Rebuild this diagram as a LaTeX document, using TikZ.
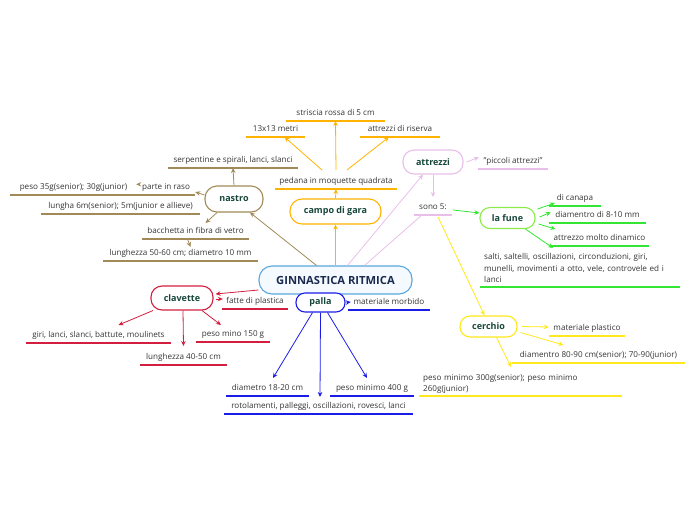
\documentclass[tikz,border=0pt]{standalone}
\usepackage{fontspec}
\setmainfont{Open Sans}
\usetikzlibrary{arrows.meta,calc}
\definecolor{cOr}{HTML}{FFB300}
\definecolor{cBr}{HTML}{A18A58}
\definecolor{cLi}{HTML}{E9BFEA}
\definecolor{cGr}{HTML}{33E633}
\definecolor{cGrB}{HTML}{8BEB4B}
\definecolor{cYe}{HTML}{FFE81C}
\definecolor{cRe}{HTML}{D31E40}
\definecolor{cBl}{HTML}{1C1CE8}
\definecolor{cMain}{HTML}{5AA6DD}
\definecolor{cMainF}{HTML}{F4FAFF}
\definecolor{cLab}{HTML}{17473A}
\definecolor{cNavy}{HTML}{1B2B4F}
\definecolor{cTxt}{HTML}{333333}
\newcommand{\lastdepth}{\rule[-4pt]{0pt}{4pt}}
\begin{document}
\begin{tikzpicture}[x=1pt,y=-1pt,
  box/.style={draw, line width=1.1pt, rounded corners=10pt, fill=white, inner sep=0pt,
    font=\fontsize{9}{10}\selectfont\bfseries, text=cLab},
  topic/.style={anchor=south, inner xsep=0pt, inner ysep=0pt, text height=6pt, text depth=5pt,
    font=\fontsize{8.1}{9}\selectfont, text=cTxt},
  multi/.style={anchor=south west, inner xsep=4pt, inner ysep=0pt, align=left, text width=#1,
    font=\fontsize{8.1}{11.6}\selectfont, text=cTxt},
  arr/.style={line width=0.8pt, -{Stealth[length=5pt,width=4.5pt]}},
  con/.style={line width=0.8pt},
  ul/.style={line width=1.6pt}]
\useasboundingbox (0,0) rectangle (696,520);

% ---- boxes
\node[box, draw=cMain, fill=cMainF, minimum width=153pt, minimum height=28pt, rounded corners=13pt,
  text=cNavy, font=\fontsize{11.2}{13}\selectfont\bfseries] (main) at (335.5,280) {GINNASTICA RITMICA};
\node[box, draw=cOr, minimum width=91pt, minimum height=25pt, rounded corners=12pt] (campo) at (335.5,211.5) {campo di gara};
\node[box, draw=cBr, minimum width=58pt, minimum height=26pt, rounded corners=12pt] (nastro) at (234,199) {nastro};
\node[box, draw=cLi, minimum width=60pt, minimum height=24pt, rounded corners=11pt] (attrezzi) at (433,162) {attrezzi};
\node[box, draw=cGrB, minimum width=55pt, minimum height=21pt] (fune) at (507.5,218) {la fune};
\node[box, draw=cYe, minimum width=57pt, minimum height=21pt] (cerchio) at (488.5,326.5) {cerchio};
\node[box, draw=cRe, minimum width=62pt, minimum height=24pt, rounded corners=11pt] (clavette) at (182,298) {clavette};
\node[box, draw=cBl, minimum width=49pt, minimum height=19pt, rounded corners=9pt] (palla) at (320.5,302.5) {palla};

% ---- topics: campo di gara
\node[topic, minimum width=122pt] (pedana) at (336,189) {pedana in moquette quadrata};
\node[topic, minimum width=59pt] (m13) at (275.5,137) {13x13 metri};
\node[topic, minimum width=99pt] (striscia) at (335.5,121) {striscia rossa di 5 cm};
\node[topic, minimum width=80pt] (riserva) at (400,137) {attrezzi di riserva};
% nastro
\node[topic, minimum width=130pt] (serp) at (233,168) {serpentine e spirali, lanci, slanci};
\node[topic, minimum width=58pt] (raso) at (166,195) {parte in raso};
\node[topic, minimum width=127pt] (peso35) at (73.5,195) {peso 35g(senior); 30g(junior)};
\node[topic, minimum width=159pt] (lungha) at (120.5,214) {lungha 6m(senior); 5m(junior e allieve)};
\node[topic, minimum width=107pt] (bacch) at (195.5,239) {bacchetta in fibra di vetro};
\node[topic, minimum width=155pt] (lung50) at (180.5,261) {lunghezza 50-60 cm; diametro 10 mm};
% attrezzi
\node[topic, minimum width=70pt] (piccoli) at (513,169) {"piccoli attrezzi"};
\node[topic, minimum width=38pt] (sono) at (433,215) {sono 5:};
% fune
\node[topic, minimum width=51pt] (canapa) at (575,206) {di canapa};
\node[topic, minimum width=97pt] (d810) at (597.5,223) {diamentro di 8-10 mm};
\node[topic, minimum width=99pt] (dinam) at (599.5,246) {attrezzo molto dinamico};
\node[multi=192pt] (salti) at (480,287) {salti, saltelli, oscillazioni, circonduzioni, giri,\\munelli, movimenti a otto, vele, controvele ed i\\lanci\lastdepth};
% cerchio
\node[topic, minimum width=76pt] (plast) at (587,336) {materiale plastico};
\node[topic, minimum width=173pt] (d8090) at (598.5,363) {diamentro 80-90 cm(senior); 70-90(junior)};
\node[multi=195pt] (p300) at (419,396) {peso minimo 300g(senior); peso minimo\\260g(junior)\lastdepth};
% clavette
\node[topic, minimum width=66pt] (fatte) at (255,309) {fatte di plastica};
\node[topic, minimum width=145pt] (giri) at (98.5,343) {giri, lanci, slanci, battute, moulinets};
\node[topic, minimum width=87pt] (l40) at (183.5,365) {lunghezza 40-50 cm};
\node[topic, minimum width=74pt] (p150) at (233,342) {peso mino 150 g};
% palla
\node[topic, minimum width=82pt] (morb) at (389,310) {materiale morbido};
\node[topic, minimum width=83pt] (d1820) at (267.5,396) {diametro 18-20 cm};
\node[topic, minimum width=84pt] (p400) at (372,396) {peso minimo 400 g};
\node[topic, minimum width=189pt] (rotol) at (318.5,414) {rotolamenti, palleggi, oscillazioni, rovesci, lanci};

% ---- underlines
\foreach \n/\c in {pedana/cOr,m13/cOr,striscia/cOr,riserva/cOr,
  serp/cBr,raso/cBr,peso35/cBr,lungha/cBr,bacch/cBr,lung50/cBr,
  piccoli/cLi,sono/cLi,canapa/cGr,d810/cGr,dinam/cGr,salti/cGr,
  plast/cYe,d8090/cYe,p300/cYe,fatte/cRe,giri/cRe,l40/cRe,p150/cRe,
  morb/cBl,d1820/cBl,p400/cBl,rotol/cBl}
  \draw[ul, draw=\c] (\n.south west) -- (\n.south east);

% ---- named free ends
\coordinate (pA) at (322,170);
\coordinate (pB) at (336,170);
\coordinate (pC) at (347,170);
\coordinate (saltiIn) at (553,248);
\coordinate (p300In) at (511,367);

% ---- connectors: campo di gara
\draw[arr, cOr] (main.north) -- (campo.south);
\draw[arr, cOr] (campo.north) -- (pedana.south);
\draw[arr, cOr] (pA) -- ([xshift=9pt]m13.south);
\draw[arr, cOr] (pB) -- (striscia.south);
\draw[arr, cOr] (pC) -- ([xshift=-11pt]riserva.south);
% nastro
\draw[arr, cBr] ([xshift=-19pt]main.north) -- ([xshift=16pt]nastro.south);
\draw[arr, cBr] (nastro.north) -- (serp.south);
\draw[arr, cBr] ([yshift=4pt]nastro.west) -- ([yshift=3pt]raso.south east);
\draw[arr, cBr] ([xshift=1pt,yshift=5pt]raso.west) -- ([xshift=-1pt,yshift=5pt]peso35.east);
\draw[arr, cBr] ([xshift=-17pt]nastro.south) -- ([xshift=10pt,yshift=16pt]bacch.south);
\draw[arr, cBr] ([xshift=-8pt]bacch.south) -- ([xshift=10pt,yshift=14pt]lung50.south);
% attrezzi
\draw[arr, cLi] ([xshift=12pt]main.north) -- ([xshift=-10pt]attrezzi.south);
\draw[con, cLi] ([xshift=29pt]main.north) -- ([xshift=-11pt]sono.south);
\draw[arr, cLi] (attrezzi.south) -- ([yshift=18pt]sono.south);
\draw[arr, cLi] ([xshift=3pt]attrezzi.east) -- ([xshift=1pt,yshift=6pt]piccoli.west);
% fune
\draw[arr, cGr] ([xshift=1pt,yshift=5pt]sono.south east) -- ([yshift=5pt]fune.west);
\draw[arr, cGr] ([xshift=2pt,yshift=9pt]fune.east) -- ([xshift=-20pt,yshift=3pt]canapa.south);
\draw[arr, cGr] ([xshift=4pt,yshift=1pt]fune.east) -- ([xshift=2pt,yshift=5pt]d810.west);
\draw[arr, cGr] ([xshift=3pt,yshift=-6pt]fune.east) -- ([xshift=-44pt,yshift=17pt]dinam.south);
\draw[arr, cGr] ([xshift=18pt]fune.south) -- (saltiIn);
% cerchio
\draw[arr, cYe] ([xshift=5pt,yshift=-2pt]sono.south) -- ([xshift=-4pt]cerchio.north);
\draw[arr, cYe] ([xshift=4pt]cerchio.east) -- ([yshift=9pt]plast.south west);
\draw[arr, cYe] ([xshift=3pt,yshift=-6pt]cerchio.east) -- ([xshift=-35pt,yshift=18pt]d8090.south);
\draw[arr, cYe] ([xshift=8pt]cerchio.south) -- (p300In);
% clavette
\draw[arr, cRe] ([yshift=-10pt]main.west) -- ([xshift=2pt,yshift=4pt]clavette.east);
\draw[arr, cRe] ([xshift=2pt,yshift=-1pt]clavette.east) -- ([xshift=1pt,yshift=10pt]fatte.south west);
\draw[arr, cRe] ([xshift=-29pt]clavette.south) -- ([xshift=20pt,yshift=18pt]giri.south);
\draw[arr, cRe] ([xshift=1pt]clavette.south) -- ([yshift=19pt]l40.south);
\draw[arr, cRe] ([xshift=20pt]clavette.south) -- ([xshift=-12pt,yshift=17pt]p150.south);
% palla
\draw[arr, cBl] ([xshift=1pt]palla.east) -- ([xshift=3pt,yshift=8pt]morb.south west);
\draw[arr, cBl] ([xshift=-8pt]palla.south) -- ([xshift=5.5pt,yshift=18pt]d1820.south);
\draw[arr, cBl] (palla.south) -- ([xshift=1.5pt,yshift=17pt]rotol.south);
\draw[arr, cBl] ([xshift=7pt]palla.south) -- ([xshift=-5pt,yshift=18pt]p400.south);
\end{tikzpicture}
\end{document}
